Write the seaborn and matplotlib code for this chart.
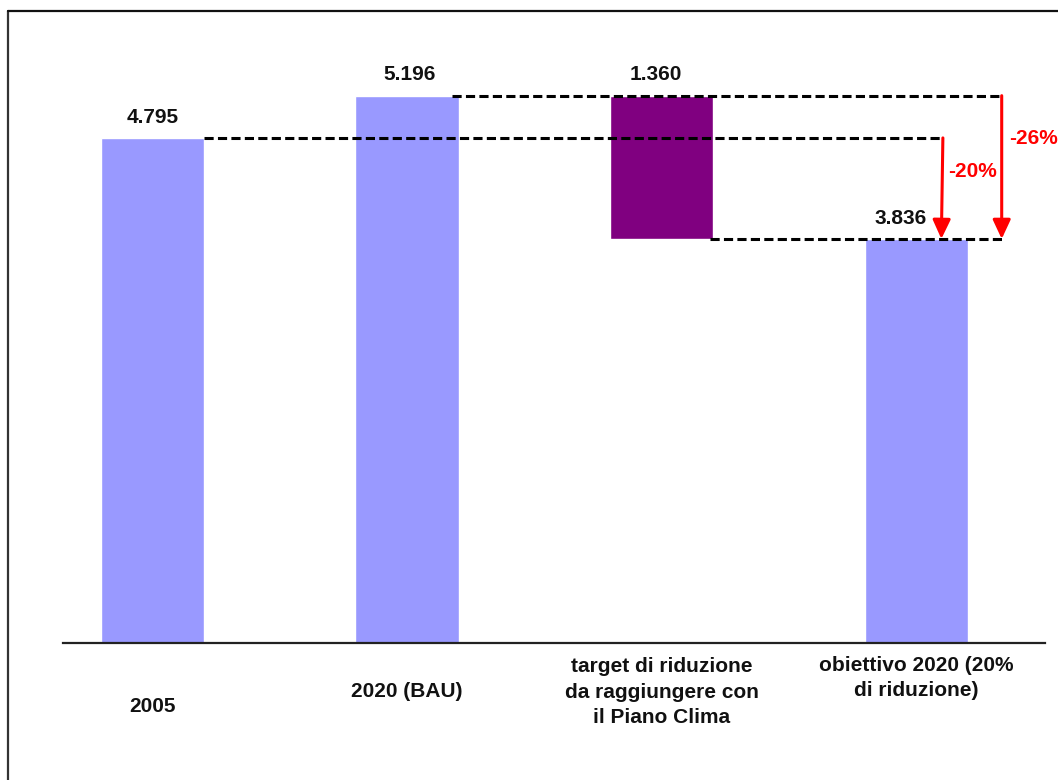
import matplotlib
matplotlib.use("Agg")
import matplotlib.pyplot as plt
from matplotlib.lines import Line2D
import seaborn as sns

# ---- data ----
categories = ["2005", "2020 (BAU)", "target di riduzione\nda raggiungere con\nil Piano Clima",
              "obiettivo 2020 (20%\ndi riduzione)"]
values = [4.795, 5.196, 1.360, 3.836]
bottoms = [0.0, 0.0, 3.836, 0.0]
value_labels = ["4.795", "5.196", "1.360", "3.836"]
bar_colors = ["#9999FF", "#9999FF", "#800080", "#9999FF"]
pct_labels = ["-20%", "-26%"]

sns.set_theme(style="white")
plt.rcParams['font.family'] = ['Liberation Sans', 'DejaVu Sans']

W, H = 1058, 780
fig = plt.figure(figsize=(W / 100, H / 100), dpi=100)
ax = fig.add_axes([63 / W, 1 - 643 / H, (1045 - 63) / W, (643 - 11) / H])

tops = [b + v for b, v in zip(bottoms, values)]
sns.barplot(x=categories, y=tops, hue=categories, palette=bar_colors, legend=False,
            width=0.405, ax=ax, saturation=1, zorder=2)

# make floating bar(s)
for cont, b, v in zip(ax.containers, bottoms, values):
    for p in cont.patches:
        p.set_y(b)
        p.set_height(v)

ax.set_xlim(-0.351, 3.505)
ax.set_ylim(0, 6)
ax.set_xticks([])
ax.set_yticks([])
ax.set_xlabel("")
ax.set_ylabel("")
for s in ["left", "right", "top"]:
    ax.spines[s].set_visible(False)
ax.spines["bottom"].set_color("#222222")
ax.spines["bottom"].set_linewidth(1.6)
ax.spines["bottom"].set_zorder(3)

# value labels
label_dx = [0, 2, -4, -11]
for i, (b, v, lab, dx) in enumerate(zip(bottoms, values, value_labels, label_dx)):
    ax.annotate(lab, xy=(i, b + v), xytext=(dx, 15), textcoords="offset points",
                ha="center", va="center", fontsize=15, fontweight="bold", color="#111111")

# category labels (below axis)
cat_offsets = [45.4, 34.6, 35.3, 25.2]
for i, (lab, off) in enumerate(zip(categories, cat_offsets)):
    ax.annotate(lab, xy=(i, 0), xycoords=("data", "axes fraction"), xytext=(0, -off),
                textcoords="offset points", ha="center", va="center", fontsize=15,
                fontweight="bold", color="#111111", linespacing=1.45, annotation_clip=False)

# dashed reference lines
dash_kw = dict(color="black", linewidth=2.2, linestyle=(0, (3, 1.4)), zorder=4)
x20 = 3.104
x26 = 3.335
ax.plot([0 + 0.2025, x20], [tops[0], tops[0]], **dash_kw)
ax.plot([1.176, x26], [tops[1], tops[1]], **dash_kw)
ax.plot([2.19, x26], [tops[3], tops[3]], **dash_kw)

# arrows
arrow_kw = dict(arrowstyle="-|>,head_length=0.58,head_width=0.27", mutation_scale=20,
                color="#FF0000", lw=2.2, shrinkA=0, shrinkB=0)
ax.annotate("", xy=(x20 - 0.006, tops[3]), xytext=(x20, tops[0]), arrowprops=arrow_kw, zorder=5)
ax.annotate("", xy=(x26, tops[3]), xytext=(x26, tops[1]), arrowprops=arrow_kw, zorder=5)

ax.text(3.221, 4.473, pct_labels[0], color="#FF0000", fontsize=15, fontweight="bold",
        ha="center", va="center", zorder=6)
ax.text(3.461, 4.786, pct_labels[1], color="#FF0000", fontsize=15, fontweight="bold",
        ha="center", va="center", zorder=6, clip_on=False)

# figure border (left and top only visible)
fig.add_artist(Line2D([8 / W, 8 / W], [0, 1 - 11 / H], color="#333333", lw=1.6,
                      transform=fig.transFigure))
fig.add_artist(Line2D([8 / W, 1], [1 - 11 / H, 1 - 11 / H], color="#111111", lw=1.6,
                      transform=fig.transFigure))

fig.savefig("out.png", dpi=100)
